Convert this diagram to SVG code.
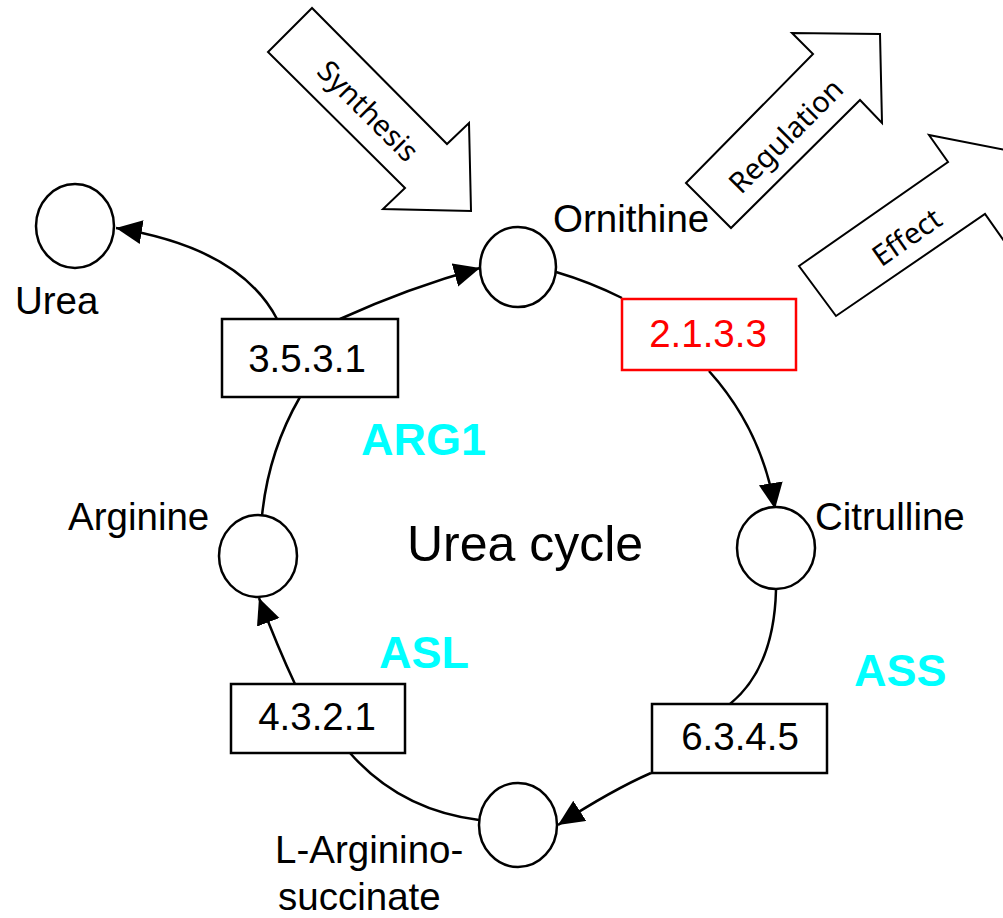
<svg xmlns="http://www.w3.org/2000/svg" width="1003" height="918" viewBox="0 0 1003 918">
<style>
.bg{fill:#fff}
.blk{fill:#fff;stroke:#000;stroke-width:2;stroke-linejoin:miter}
.blt{font-family:"Noto Sans","DejaVu Sans",sans-serif;font-size:29px;fill:#000}
.met{fill:#fff;stroke:#000;stroke-width:2.5}
.lbl{font-family:"Liberation Sans",Arial,sans-serif;font-size:38.5px;fill:#000}
.box{fill:#fff;stroke:#000;stroke-width:2.5}
.box.red{stroke:#f00}
.ec{font-family:"Liberation Sans",Arial,sans-serif;font-size:38.5px;fill:#000;text-anchor:middle}
.ec.red{fill:#f00}
.enz{font-family:"Liberation Sans",Arial,sans-serif;font-size:45px;font-weight:bold;fill:#00ffff}
.title{font-family:"Liberation Sans",Arial,sans-serif;font-size:50px;fill:#000}
.edge{fill:none;stroke:#000;stroke-width:2.5}
.arr{marker-end:url(#ah)}
</style>
<defs>
<marker id="ah" markerUnits="userSpaceOnUse" markerWidth="28" markerHeight="26" refX="26" refY="12" orient="auto">
<path d="M0,0 L26,12 L0,24 z" fill="#000"/>
</marker>
</defs>
<rect class="bg" x="0" y="0" width="1003" height="918"/>

<g id="synthesis-arrow">
<polygon class="blk" points="312,8 268,52 405,188 383,209 471,211 469,123 447,144"/>
<text class="blt" x="0" y="0" text-anchor="middle" dominant-baseline="central" transform="translate(369,110) rotate(45)">Synthesis</text>
</g>
<g id="regulation-arrow">
<polygon class="blk" points="686,183 813,54 792,33 880,34 882,123 860,100 731,228"/>
<text class="blt" x="0" y="0" text-anchor="middle" dominant-baseline="central" transform="translate(785,135) rotate(-45)">Regulation</text>
</g>
<g id="effect-arrow">
<polygon class="blk" points="799,266 948,162 929,135 1016,152 1004,241 985,214 836,316"/>
<text class="blt" x="0" y="0" text-anchor="middle" dominant-baseline="central" transform="translate(906,236) rotate(-35)">Effect</text>
</g>

<g id="connectors">
<path class="edge" d="M262,516 A258,280 0 0 1 300,397"/>
<path class="edge arr" d="M340,319 Q408,288 480,268"/>
<path class="edge" d="M556,272 Q590,282 622,298"/>
<path class="edge arr" d="M709,371 Q762,430 775,509"/>
<path class="edge" d="M776,590 Q774,668 730,704"/>
<path class="edge arr" d="M651,773 Q612,790 558,825"/>
<path class="edge" d="M479,820 Q400,810 350,753"/>
<path class="edge arr" d="M295,684 Q278,648 259,598"/>
<path class="edge arr" d="M277,319 Q240,248 116,228"/>
</g>

<g id="urea">
<ellipse class="met" cx="75" cy="226" rx="39" ry="42"/>
<text class="lbl" x="15" y="314">Urea</text>
</g>
<g id="ornithine">
<ellipse class="met" cx="518" cy="267" rx="38" ry="40"/>
<text class="lbl" x="553" y="232">Ornithine</text>
</g>
<g id="citrulline">
<ellipse class="met" cx="776" cy="548" rx="39" ry="41"/>
<text class="lbl" x="815" y="530">Citrulline</text>
</g>
<g id="arginine">
<ellipse class="met" cx="258" cy="556" rx="39" ry="41"/>
<text class="lbl" x="68" y="530">Arginine</text>
</g>
<g id="argininosuccinate">
<ellipse class="met" cx="518" cy="825" rx="39" ry="42"/>
<text class="lbl" x="275" y="863">L-Arginino-</text>
<text class="lbl" x="278" y="910">succinate</text>
</g>

<g id="ec-3-5-3-1">
<rect class="box" x="222" y="319" width="176" height="78"/>
<text class="ec" x="307" y="372">3.5.3.1</text>
</g>
<g id="ec-2-1-3-3">
<rect class="box red" x="622" y="299" width="174" height="71"/>
<text class="ec red" x="708" y="347">2.1.3.3</text>
</g>
<g id="ec-6-3-4-5">
<rect class="box" x="652" y="704" width="175" height="69"/>
<text class="ec" x="740" y="750">6.3.4.5</text>
</g>
<g id="ec-4-3-2-1">
<rect class="box" x="231" y="684" width="174" height="69"/>
<text class="ec" x="317" y="730">4.3.2.1</text>
</g>

<g id="labels">
<text class="title" x="407" y="561">Urea cycle</text>
<text class="enz" x="361" y="455">ARG1</text>
<text class="enz" x="379" y="668">ASL</text>
<text class="enz" x="854" y="686">ASS</text>
</g>
</svg>
